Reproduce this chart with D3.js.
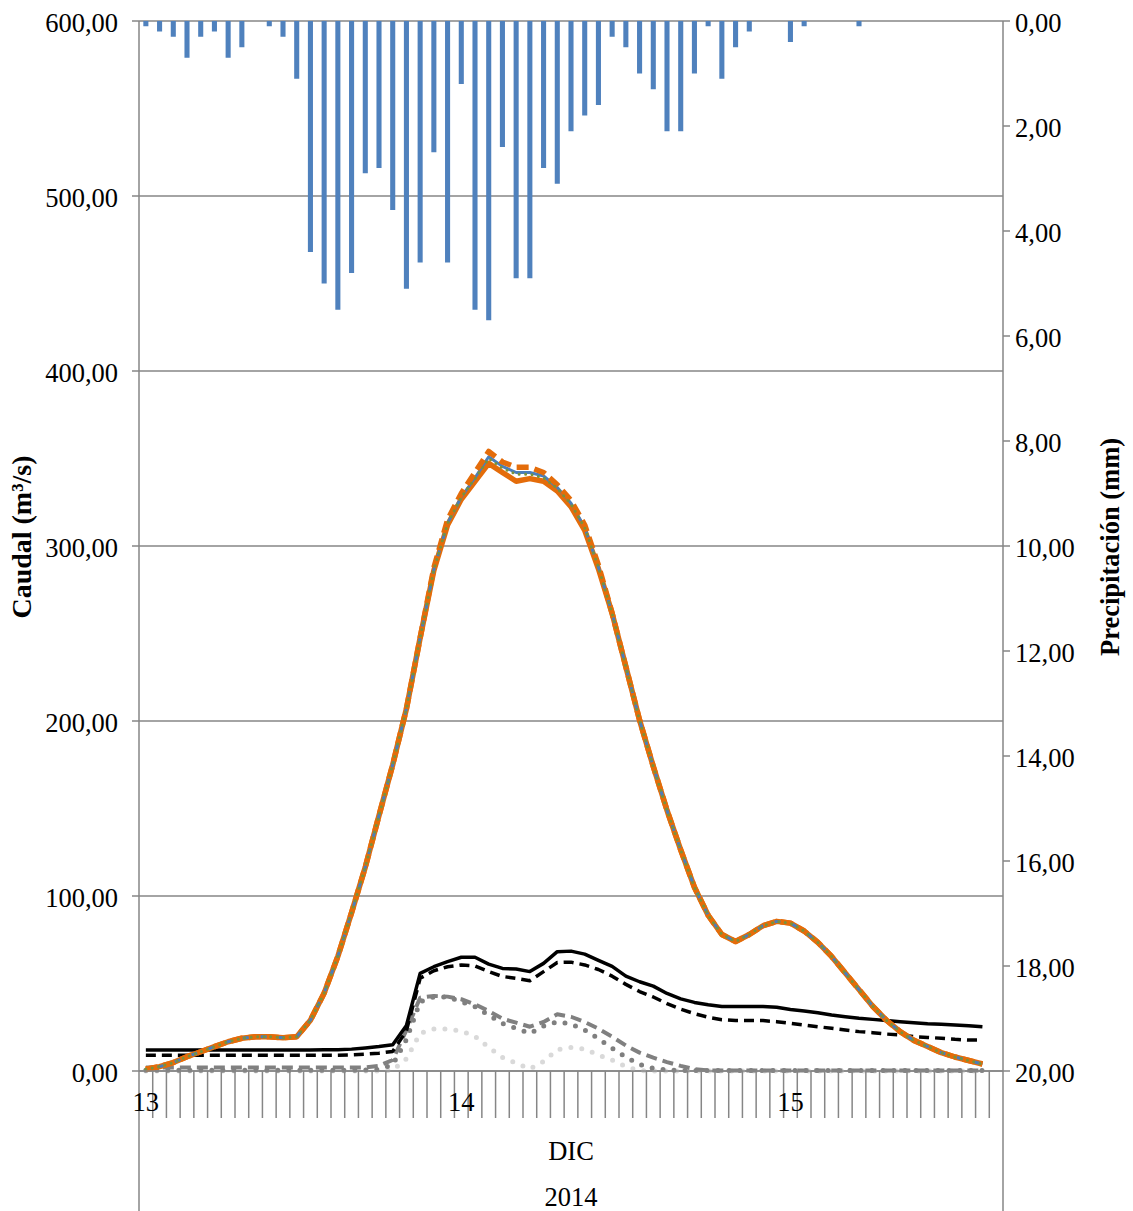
<!DOCTYPE html>
<html>
<head>
  <meta charset="utf-8">
  <title>Caudal y precipitación</title>
  <style>
    body { margin: 0; background: #fff; }
    text {
      font-family: "Liberation Serif", "Times New Roman", serif;
      font-size: 26.5px;
      fill: #000;
    }
    .grid line { stroke: #868686; stroke-width: 1.5px; }
    .axis-line { stroke: #868686; stroke-width: 1.5px; }
    .series { fill: none; stroke-linejoin: round; }
  </style>
</head>
<body>
  <script src="https://d3js.org/d3.v7.min.js"></script>
  <svg width="1133" height="1211"></svg>
  <script>
    // hourly categories, 13 DIC 01:00 -> 15 DIC 15:00
    var nCategories = 63;
    var dayLabels = ["13", "14", "15"];
    var dayLabelIndex = [0, 23, 47];
    var monthLabel = "DIC";
    var yearLabel = "2014";

    var caudalTicks = [0, 100, 200, 300, 400, 500, 600];
    var precipTicks = [0, 2, 4, 6, 8, 10, 12, 14, 16, 18, 20];

    // precipitation (mm), one per category
    var precipitacion = [0.1, 0.2, 0.3, 0.7, 0.3, 0.2, 0.7, 0.5, 0, 0.1, 0.3, 1.1,
      4.4, 5.0, 5.5, 4.8, 2.9, 2.8, 3.6, 5.1, 4.6, 2.5, 4.6, 1.2, 5.5, 5.7, 2.4, 4.9, 4.9, 2.8, 3.1, 2.1,
      1.8, 1.6, 0.3, 0.5, 1.0, 1.3, 2.1, 2.1, 1.0, 0.1, 1.1, 0.5, 0.2, 0, 0, 0.4, 0.1, 0, 0, 0, 0.1,
      0, 0, 0, 0, 0, 0, 0, 0, 0, 0];

    // discharge series (m3/s)
    var qOrangeSolid = [1.0, 2.5, 4.8, 8.2, 11.0, 13.9, 16.7, 18.7, 19.6, 19.6, 19.0, 19.6,
      29.0, 44.5, 65.5, 90.5, 116.5, 146.0, 175.0, 207.0, 247.5, 286.0, 312.0, 326.7, 337.0, 347.2,
      342.0, 337.0, 338.5, 337.0, 331.5, 322.5, 309.0, 287.0, 261.5, 231.0, 200.5, 174.0, 149.0, 126.3, 105.0, 89.0,
      78.0, 74.0, 78.0, 83.0, 85.5, 84.5, 80.0, 73.5, 65.5, 56.0, 46.5, 37.0, 29.0, 22.5, 17.5, 14.0, 10.5, 8.0, 6.0, 4.0];
    var qBlue = [1.0, 2.5, 4.8, 8.2, 11.0, 13.9, 16.7, 18.7, 19.6, 19.6, 19.0, 19.6,
      29.0, 44.5, 65.5, 90.5, 116.5, 146.0, 175.0, 207.0, 247.5, 286.5, 313.0, 328.0, 339.0, 351.0,
      345.5, 342.0, 342.0, 340.0, 333.5, 324.5, 310.5, 288.0, 261.5, 231.0, 200.5, 174.0, 149.0, 126.3, 105.0, 89.0,
      78.0, 74.0, 78.0, 83.0, 85.5, 84.5, 80.0, 73.5, 65.5, 56.0, 46.5, 37.0, 29.0, 22.5, 17.5, 14.0, 10.5, 8.0, 6.0, 4.0];
    var qGreenDotted = [1.0, 2.5, 4.8, 8.2, 11.0, 13.9, 16.7, 18.7, 19.6, 19.6, 19.0, 19.6,
      29.0, 44.5, 65.5, 90.5, 116.5, 146.0, 175.0, 207.0, 247.5, 286.5, 313.0, 328.0, 338.5, 350.0,
      344.5, 341.0, 341.0, 339.0, 333.0, 324.0, 310.5, 288.0, 261.5, 231.0, 200.5, 174.0, 149.0, 126.3, 105.0, 89.0,
      78.0, 74.0, 78.0, 83.0, 85.5, 84.5, 80.0, 73.5, 65.5, 56.0, 46.5, 37.0, 29.0, 22.5, 17.5, 14.0, 10.5, 8.0, 6.0, 4.0];
    var qOrangeDashed = [1.0, 2.5, 4.8, 8.2, 11.0, 13.9, 16.7, 18.7, 19.6, 19.6, 19.0, 19.6,
      29.0, 44.5, 65.5, 90.5, 116.5, 146.0, 175.0, 207.0, 247.5, 287.5, 315.0, 330.0, 342.0, 354.0,
      348.0, 345.0, 345.0, 342.0, 335.0, 326.0, 312.0, 289.0, 261.5, 231.0, 200.5, 174.0, 149.0, 126.3, 105.0, 89.0,
      78.0, 74.0, 78.0, 83.0, 85.5, 84.5, 80.0, 73.5, 65.5, 56.0, 46.5, 37.0, 29.0, 22.5, 17.5, 14.0, 10.5, 8.0, 6.0, 4.0];
    var qBlackSolid = [12.0, 12.0, 12.0, 12.0, 12.0, 12.0, 12.0, 12.0, 12.0, 12.0, 12.0, 12.0, 12.0,
      12.1, 12.2, 12.5, 13.2, 14.0, 15.0, 26.0,
      55.8, 59.6, 62.5, 65.0, 65.0, 61.1, 58.6, 58.3, 56.8, 61.5, 68.2, 68.5, 66.8, 63.2, 59.8, 54.2, 51.0, 48.5, 44.3, 41.2, 39.2, 37.9,
      36.8, 36.8, 36.8, 36.8, 36.4, 35.2, 34.3, 33.3, 32.0, 31.0, 30.1, 29.5, 28.8, 28.2, 27.6, 27.0, 26.7, 26.3, 25.9, 25.3];
    var qBlackDashed = [9.0, 9.0, 9.0, 9.0, 9.0, 9.0, 9.0, 9.0, 9.0, 9.0, 9.0, 9.0, 9.0, 9.0, 9.0,
      9.2, 9.6, 10.2, 11.2, 23.0,
      53.0, 57.3, 59.6, 60.6, 60.0, 56.8, 54.0, 53.0, 51.6, 56.8, 62.0, 62.2, 60.6, 58.0, 54.2, 49.5, 45.4, 42.3, 38.5, 35.3, 32.8, 30.7,
      29.3, 28.8, 28.8, 28.8, 28.2, 27.3, 26.3, 25.3, 24.4, 23.4, 22.5, 21.9, 21.1, 20.6, 19.6, 19.2, 18.7, 18.1, 17.7, 17.7];
    var qGrayDashed = [2.0, 2.0, 2.0, 2.0, 2.0, 2.0, 2.0, 2.0, 2.0, 2.0, 2.0, 2.0, 2.0, 2.0, 2.0, 2.0, 2.0,
      3.0, 6.3, 23.4, 41.9, 42.9, 42.5, 41.0, 38.1, 34.3, 29.9, 27.6, 25.3, 28.0, 32.4, 31.0, 28.0, 24.2, 19.6,
      14.6, 10.5, 7.6, 5.1, 2.9, 1.0, 0.3,
      0.3, 0.3, 0.3, 0.3, 0.3, 0.3, 0.3, 0.3, 0.3, 0.3, 0.3, 0.3, 0.3, 0.3, 0.3, 0.3, 0.3, 0.3, 0.3, 0.3];
    var qGrayDotted = [0.5, 0.5, 0.5, 0.5, 0.5, 0.5, 0.5, 0.5, 0.5, 0.5, 0.5, 0.5, 0.5, 0.5, 0.5, 0.5, 0.5,
      1.0, 3.5, 18.0, 39.6, 42.3, 42.3, 39.6, 36.8, 32.0, 27.2, 24.4, 21.5, 25.7, 28.2, 26.9, 23.4, 18.5, 13.0,
      8.0, 3.8, 1.5, 0.5,
      0.3, 0.3, 0.3, 0.3, 0.3, 0.3, 0.3, 0.3, 0.3, 0.3, 0.3, 0.3, 0.3, 0.3, 0.3, 0.3, 0.3, 0.3, 0.3, 0.3, 0.3, 0.3, 0.3];
    var qLightDotted = [0, 0, 0, 0, 0, 0, 0, 0, 0, 0, 0, 0, 0, 0, 0, 0, 0, 0,
      0.5, 7.0, 21.5, 24.0, 24.0, 22.8, 19.8, 13.5, 7.8, 4.5, 1.2, 5.5, 12.2, 13.5, 12.5, 9.2, 6.2, 2.5, 0.2,
      0, 0, 0, 0, 0, 0, 0, 0, 0, 0, 0, 0, 0, 0, 0, 0, 0, 0, 0, 0, 0, 0, 0, 0, 0];

    var svg = d3.select("svg");
    var plotLeft = 139, plotRight = 1003, plotTop = 21, plotBottom = 1071;

    var x = d3.scaleBand()
        .domain(d3.range(nCategories))
        .range([plotLeft, plotRight])
        .padding(0);

    var yQ = d3.scaleLinear().domain([0, 600]).range([plotBottom, plotTop]);
    var yP = d3.scaleLinear().domain([0, 20]).range([plotTop, plotBottom]);

    var fmt = function(v) { return v.toFixed(2).replace(".", ","); };

    // gridlines
    svg.append("g").attr("class", "grid")
      .selectAll("line")
      .data(caudalTicks)
      .enter().append("line")
        .attr("x1", plotLeft).attr("x2", plotRight)
        .attr("y1", function(d) { return yQ(d); })
        .attr("y2", function(d) { return yQ(d); });

    // rain bars hanging from the top
    var barW = x.bandwidth() * 0.37;
    svg.append("g")
      .selectAll("rect")
      .data(precipitacion)
      .enter().append("rect")
        .attr("x", function(d, i) { return x(i) + x.bandwidth() / 2 - barW / 2; })
        .attr("y", yP(0))
        .attr("width", barW)
        .attr("height", function(d) { return yP(d) - yP(0); })
        .attr("fill", "#4F81BD");

    // discharge lines
    var line = d3.line()
        .x(function(d, i) { return x(i) + x.bandwidth() / 2; })
        .y(function(d) { return yQ(d); });

    var series = [
      { values: qLightDotted,  color: "#D9D9D9", width: 5, dash: "0 11", cap: "round" },
      { values: qGrayDotted,   color: "#7F7F7F", width: 5, dash: "0 11", cap: "round" },
      { values: qGrayDashed,   color: "#808080", width: 4, dash: "11 6", cap: "butt" },
      { values: qBlackDashed,  color: "#000000", width: 3.5, dash: "10 6", cap: "butt" },
      { values: qBlackSolid,   color: "#000000", width: 3.5, dash: null, cap: "butt" },
      { values: qOrangeSolid,  color: "#E46C0A", width: 5.5, dash: null, cap: "butt" },
      { values: qBlue,         color: "#4A7EBB", width: 3, dash: null, cap: "butt" },
      { values: qOrangeDashed, color: "#E46C0A", width: 5.5, dash: "12 6", cap: "butt" },
      { values: qGreenDotted,  color: "#77933C", width: 3, dash: "0 6.5", cap: "round" }
    ];

    svg.append("g")
      .selectAll("path")
      .data(series)
      .enter().append("path")
        .attr("class", "series")
        .attr("d", function(d) { return line(d.values); })
        .attr("stroke", function(d) { return d.color; })
        .attr("stroke-width", function(d) { return d.width; })
        .attr("stroke-dasharray", function(d) { return d.dash; })
        .attr("stroke-linecap", function(d) { return d.cap; });

    // axis lines (they run down through the category label area)
    var axes = svg.append("g");
    axes.append("line").attr("class", "axis-line")
      .attr("x1", plotLeft).attr("x2", plotLeft).attr("y1", plotTop).attr("y2", 1211);
    axes.append("line").attr("class", "axis-line")
      .attr("x1", plotRight).attr("x2", plotRight).attr("y1", plotTop).attr("y2", 1211);
    axes.append("line").attr("class", "axis-line")
      .attr("x1", plotLeft).attr("x2", plotRight).attr("y1", plotBottom).attr("y2", plotBottom);

    // category tick marks
    axes.selectAll(".cat-tick")
      .data(d3.range(1, nCategories))
      .enter().append("line")
        .attr("class", "axis-line")
        .attr("x1", function(d) { return x(d); })
        .attr("x2", function(d) { return x(d); })
        .attr("y1", plotBottom).attr("y2", 1118);

    // left axis ticks + labels
    axes.selectAll(".ltick")
      .data(caudalTicks)
      .enter().append("line")
        .attr("class", "axis-line")
        .attr("x1", plotLeft - 7).attr("x2", plotLeft)
        .attr("y1", function(d) { return yQ(d); })
        .attr("y2", function(d) { return yQ(d); });
    axes.selectAll(".llabel")
      .data(caudalTicks)
      .enter().append("text")
        .attr("x", 118)
        .attr("y", function(d) { return yQ(d) + 2; })
        .attr("text-anchor", "end")
        .attr("dominant-baseline", "central")
        .text(fmt);

    // right axis ticks + labels
    axes.selectAll(".rtick")
      .data(precipTicks)
      .enter().append("line")
        .attr("class", "axis-line")
        .attr("x1", plotRight).attr("x2", plotRight + 7)
        .attr("y1", function(d) { return yP(d); })
        .attr("y2", function(d) { return yP(d); });
    axes.selectAll(".rlabel")
      .data(precipTicks)
      .enter().append("text")
        .attr("x", 1015)
        .attr("y", function(d) { return yP(d) + 2; })
        .attr("text-anchor", "start")
        .attr("dominant-baseline", "central")
        .text(fmt);

    // day labels
    axes.selectAll(".day")
      .data(dayLabels)
      .enter().append("text")
        .attr("x", function(d, i) { return x(dayLabelIndex[i]) + x.bandwidth() / 2; })
        .attr("y", 1111)
        .attr("text-anchor", "middle")
        .text(function(d) { return d; });

    var mid = (plotLeft + plotRight) / 2;
    axes.append("text").attr("x", mid).attr("y", 1160)
      .attr("text-anchor", "middle").text(monthLabel);
    axes.append("text").attr("x", mid).attr("y", 1206)
      .attr("text-anchor", "middle").text(yearLabel);

    // axis titles
    svg.append("text")
      .attr("transform", "translate(31,537) rotate(-90)")
      .attr("text-anchor", "middle")
      .style("font-weight", "bold")
      .style("font-size", "28px")
      .text("Caudal (m³/s)");
    svg.append("text")
      .attr("transform", "translate(1119,547) rotate(-90)")
      .attr("text-anchor", "middle")
      .style("font-weight", "bold")
      .text("Precipitación (mm)");
  </script>
</body>
</html>
